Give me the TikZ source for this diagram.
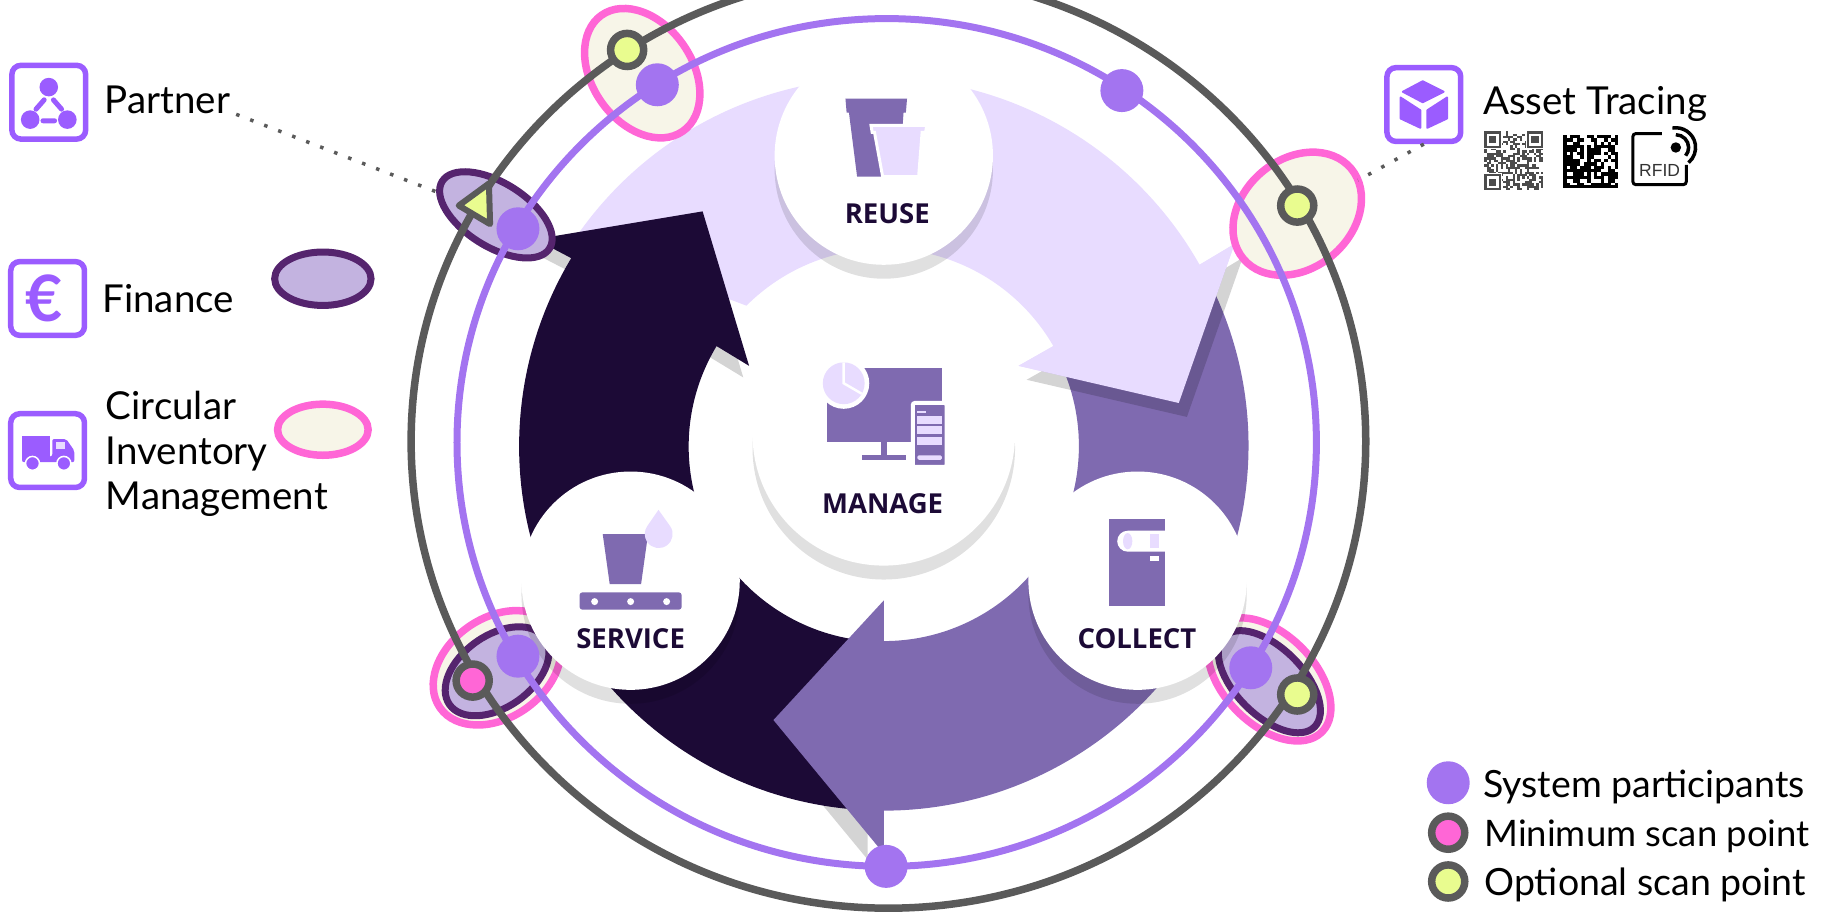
\documentclass[tikz,border=0pt]{standalone}
\usepackage{fontspec}
\setmainfont{Lato}
\newfontfamily\discfont{Open Sans}
\newfontfamily\tagfont{Liberation Sans}
\usetikzlibrary{shapes.geometric}
\definecolor{inkdark}{HTML}{1C0A36}
\definecolor{midpurple}{HTML}{7F6AB0}
\definecolor{lilac}{HTML}{E8DCFF}
\definecolor{ringgray}{HTML}{5A5A5A}
\definecolor{ringpurple}{HTML}{A374F0}
\definecolor{iconpurple}{HTML}{9B5CFF}
\definecolor{pinkline}{HTML}{FF66D6}
\definecolor{creamfill}{HTML}{F7F5E8}
\definecolor{plumline}{HTML}{55246E}
\definecolor{plumfill}{HTML}{C3B3E0}
\definecolor{limefill}{HTML}{E9FC8F}
\def\pxu{1.16135pt}
\newcommand\sidefont{\fontsize{38.5}{45}\selectfont}
\newcommand\keyfont{\fontsize{37.5}{45}\selectfont}
\tikzset{
  oval/.style 2 args={ellipse,inner sep=0pt,outer sep=0pt,minimum width=2*#1*\pxu,minimum height=2*#2*\pxu},
  invoval/.style={fill=creamfill,draw=pinkline,line width=7.5pt},
  finoval/.style={fill=plumfill,draw=plumline,line width=7pt},
  disc/.style={circle,fill=white,inner sep=0pt,outer sep=0pt,minimum size=2*#1*\pxu},
  shade/.style={fill=black,opacity=.17},
  discshade/.style={fill=black,opacity=.12},
  actor/.style={circle,fill=ringpurple,inner sep=0pt,outer sep=0pt,minimum size=37*\pxu},
  scan/.style={circle,fill=#1,draw=ringgray,line width=7.5pt,inner sep=0pt,outer sep=0pt,minimum size=28.5*\pxu},
  iconbox/.style={draw=iconpurple,line width=5.5pt,rounded corners=9pt,inner sep=0pt,minimum size=63.5*\pxu},
  side/.style={font=\sidefont,text=black,inner sep=0pt,anchor=base west},
  keytext/.style={font=\keyfont,text=black,inner sep=0pt,anchor=base west},
  disclabel/.style={font=\discfont\bfseries\fontsize{27.5}{27.5}\selectfont,text=inkdark,inner sep=0pt},
  dotlink/.style={ringgray,line width=3.5pt,dash pattern=on 3.5pt off 11.5pt}
}
\begin{document}
\begin{tikzpicture}[x=1.16135pt,y=-1.16135pt]
\path[use as bounding box,clip] (0,0) rectangle (1568,787);
\coordinate (hub) at (761,384);
\fill[lilac] (757,384) ++(-146:317) arc (-146:-29.5:317) -- (1063,210) -- (1015,347) -- (877,315) -- (907,298) arc (-30:-135:168) -- cycle;
\fill[shade,shift={(-5,10)}] (492,222) -- (461,206) -- (605,182) -- (645,315) -- (617,298) -- cycle;
\fill[shade,shift={(-14,5)}] (761,735) -- (666,620) -- (761,620) -- cycle;
\fill[inkdark] (hub) ++(95:314) arc (95:211:314) -- (461,206) -- (605,182) -- (645,315) -- (617,298) arc (211:95:168) -- cycle;
\fill[midpurple] (hub) ++(-28:314) arc (-28:90:314) -- (761,735) -- (666,620) -- (761,517) -- (761,552) arc (90:-28:168) -- cycle;
\fill[shade,shift={(7,12)}] (1033,228) -- (1063,210) -- (1015,347) -- (877,315) -- (907,298) -- cycle;
\fill[lilac] (1033,228) -- (1063,210) -- (1015,347) -- (877,315) -- (907,298) -- cycle;

\node[oval={61}{43},invoval,rotate=-55] (invtop) at (553,63) {};
\node[oval={54.5}{27.5},finoval,rotate=-32] (partneroval) at (427,185) {};
\node[oval={60.5}{47},invoval,rotate=40] (traceoval) at (1117,184) {};
\node[oval={60}{43},invoval,rotate=35] (invleft) at (428,575) {};
\node[oval={50}{31},finoval,rotate=35] (finleft) at (428,578) {};
\node[oval={64}{39},invoval,rotate=-45] (invright) at (1093,585) {};
\node[oval={55}{29},finoval,rotate=-45] (finright) at (1093,587) {};
\node[oval={41.5}{23},finoval] (finkey) at (278,240) {};
\node[oval={39}{22},invoval] (invkey) at (278,370) {};

\foreach \n/\x/\y/\r in {reuse/761/134/94, manage/761/374/113, service/543/500/94, collect/979.5/500/94} {
  \fill[discshade] (\x,\y+12) circle (\r);
  \node[disc=\r] (\n) at (\x,\y) {};
}

% reuse
\fill[midpurple] (728,85) -- (781,85) -- (780,97) -- (778,97) -- (774,152) -- (738,152) -- (731,97) -- (729,97) -- cycle;
\fill[lilac,draw=white,line width=3pt] (750,108) -- (798,108) -- (797,114) -- (794,114) -- (791,152) -- (760,152) -- (753,114) -- (751,114) -- cycle;
% manage
\fill[midpurple] (712,317) rectangle (811,381);
\fill[midpurple] (759,381) rectangle (764,393);
\fill[midpurple] (742.5,392) rectangle (780,396);
\fill[white] (726.5,330) circle (22);
\fill[lilac] (726.5,330) circle (18);
\draw[white,line width=2.5pt] (726.5,312) -- (726.5,330) -- (742,339);
\fill[midpurple,draw=white,line width=4pt,rounded corners=2pt] (786,347) rectangle (815,402);
\fill[lilac] (790,354) rectangle (797,356);
\foreach \y in {358,367,376}
  \fill[lilac] (790,\y) rectangle (811,\y+7);
\fill[lilac,rounded corners=1.5pt] (790,392) rectangle (811,396);
% service
\fill[midpurple] (519,460) -- (558,460) -- (552,503) -- (525,503) -- cycle;
\fill[midpurple,rounded corners=3pt] (499,510) rectangle (587,525);
\foreach \x in {512,543,574}
  \fill[white] (\x,518) circle (3);
\fill[lilac] (567,439) -- (577,453) arc (-35:215:12) -- cycle;
% collect
\fill[midpurple] (955,447) rectangle (1003,522);
\fill[white] (1003,457) -- (971,457) arc (-90:-270:9) -- (1003,475) -- cycle;
\fill[lilac] (971,466) ellipse (4 and 7);
\fill[lilac] (990,460) rectangle (998,472);
\fill[white] (990,479) rectangle (998,483);

\foreach \n/\x/\y/\t in {reuselabel/764/184/REUSE, managelabel/760/434/MANAGE, servicelabel/543/550/SERVICE, collectlabel/979/550/COLLECT}
  \node[disclabel] (\n) at (\x,\y) {\t};

\draw[ringgray,line width=7.5pt] (765,380) ellipse [x radius=411,y radius=402];
\draw[ringpurple,line width=7pt] (763.5,381) ellipse [x radius=370,y radius=365];

\foreach \n/\x/\y in {a/566/73, b/966/78, c/446/197, d/1077/575, e/446/565, f/763/746, k/1247/674}
  \node[actor] (actor\n) at (\x,\y) {};
\foreach \n/\x/\y/\c in {a/540/43/limefill, b/1117/177/limefill, c/407/586/pinkline, d/1117/598/limefill, k/1247/717/pinkline, l/1247/759/limefill}
  \node[scan=\c] (scan\n) at (\x,\y) {};
\draw[ringgray,line width=6pt,line join=round,fill=limefill] (395,177) -- (421,158) -- (422,193) -- cycle;

\node[iconbox] (partnerbox) at (42,88) {};
\node[iconbox] (financebox) at (41,257) {};
\node[iconbox] (truckbox) at (41,388) {};
\node[iconbox] (tracebox) at (1226,90) {};

% partner icon
\fill[iconpurple] (42,75) circle (8) (26,103) circle (8) (58,103) circle (8);
\draw[iconpurple,line width=5pt,line cap=round] (38,86) -- (31,94) (46,86) -- (53,94) (37,104) -- (47,104);
% euro icon
\node[font=\bfseries\fontsize{64}{64}\selectfont,text=iconpurple,inner sep=0pt] (euro) at (38,257) {€};
% truck icon
\fill[iconpurple] (19,375) rectangle (43,394);
\fill[iconpurple,rounded corners=2pt] (45,378) -- (57,378) -- (64,388) -- (64,398) -- (19,398) -- (19,393) -- (45,393) -- cycle;
\fill[lilac] (48,381) rectangle (56,387);
\fill[iconpurple,draw=white,line width=1.5pt] (28,399) circle (6) (55,399) circle (6);
% cube icon
\fill[iconpurple,draw=iconpurple,line width=2pt,line join=round] (1225,70) -- (1243,79) -- (1225,88) -- (1208,79) -- cycle;
\fill[iconpurple,draw=iconpurple,line width=2pt,line join=round] (1206,84) -- (1223,95) -- (1223,110) -- (1206,102) -- cycle;
\fill[iconpurple,draw=iconpurple,line width=2pt,line join=round] (1246,84) -- (1229,95) -- (1229,110) -- (1246,102) -- cycle;

\node[side] (partner) at (90,98) {Partner};
\node[side] (finance) at (88,269) {Finance};
\node[side,anchor=west,align=left] (inventory) at (91,391) {Circular\\Inventory\\Management};
\node[side] (tracing) at (1277,99) {Asset Tracing};
\node[keytext] (systemkey) at (1277,687) {System participants};
\node[keytext,font=\fontsize{36.5}{45}\selectfont] (minimumkey) at (1278,729) {Minimum scan point};
\node[keytext] (optionalkey) at (1278,771) {Optional scan point};

\draw[dotlink] ([xshift=6pt]partner.south east) -- (partneroval);
\draw[dotlink] (tracebox.south) -- (traceoval);

% qr
\pgfmathsetseed{11}
\foreach \i in {0,...,24}
  \foreach \j in {0,...,24} {
    \pgfmathsetmacro\cell{rnd}
    \ifdim\cell pt<.5pt
      \fill[black!70] (1278+\i*2.04,113+\j*2.04) rectangle +(2.04,2.04);
    \fi
  }
\foreach \x/\y in {1278/113, 1314.7/113, 1278/149.7} {
  \fill[white] (\x-1,\y-1) rectangle +(16.3,16.3);
  \fill[black!70] (\x,\y) rectangle +(14.3,14.3);
  \fill[white] (\x+2,\y+2) rectangle +(10.3,10.3);
  \fill[black!70] (\x+4,\y+4) rectangle +(6.3,6.3);
}
% matrix code
\foreach \i in {1,...,15}
  \foreach \j in {0,...,14} {
    \pgfmathsetmacro\cell{rnd}
    \ifdim\cell pt<.6pt
      \fill[black] (1346+\i*2.95,116+\j*2.95) rectangle +(2.95,2.95);
    \fi
  }
\fill[black] (1346,116) rectangle (1349,162);
\fill[black] (1346,159) rectangle (1393,162);
% rfid tag
\draw[black,line width=3pt,rounded corners=3pt] (1431,115) -- (1406,115) -- (1406,159) -- (1452,159) -- (1452,142);
\fill[black] (1443,127) circle (4.5);
\draw[black,line width=3.5pt] (1443,127) ++(-90:11) arc (-90:40:11);
\draw[black,line width=3.5pt] (1443,127) ++(-100:17) arc (-100:50:17);
\node[font=\tagfont\fontsize{17.5}{17.5}\selectfont,text=black!80,inner sep=0pt] (rfid) at (1429,147) {RFID};
\end{tikzpicture}
\end{document}
